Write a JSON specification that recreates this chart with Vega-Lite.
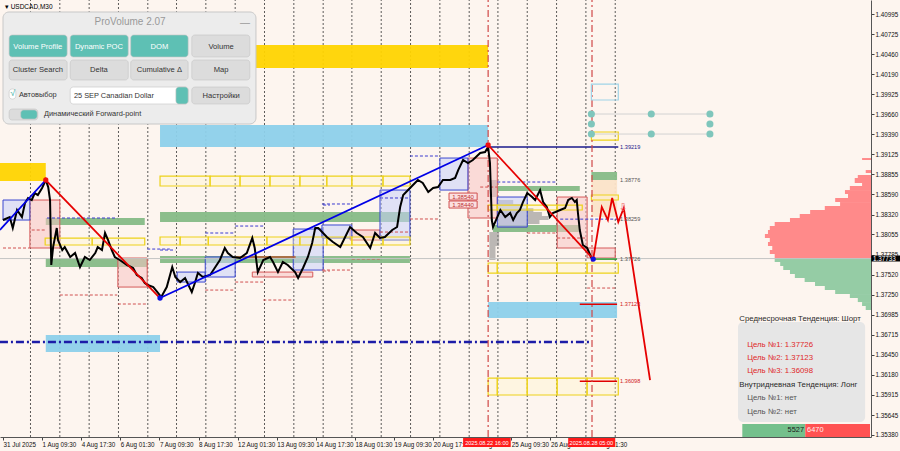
{
"$schema": "https://vega.github.io/schema/vega-lite/v6.json",
"width": 871, "height": 437,
"autosize": {"type": "none"},
"padding": {"left": 0, "top": 0, "right": 29, "bottom": 14},
"background": "#FDF5EF",
"config": {"view": {"stroke": null}, "text": {"font": "Liberation Sans"}},
"resolve": {"scale": {"color": "independent"}},
"datasets": {
"grid": [{"x":45,"y":1.35353,"y2":1.41182},{"x":93,"y":1.35353,"y2":1.41182},{"x":141,"y":1.35353,"y2":1.41182},{"x":189,"y":1.35353,"y2":1.41182},{"x":237,"y":1.35353,"y2":1.41182},{"x":284,"y":1.35353,"y2":1.41182},{"x":332,"y":1.35353,"y2":1.41182},{"x":380,"y":1.35353,"y2":1.41182},{"x":428,"y":1.35353,"y2":1.41182},{"x":476,"y":1.35353,"y2":1.41182},{"x":524,"y":1.35353,"y2":1.41182},{"x":571,"y":1.35353,"y2":1.41182},{"x":619,"y":1.35353,"y2":1.41182},{"x":667,"y":1.35353,"y2":1.41182},{"x":715,"y":1.35353,"y2":1.41182},{"x":763,"y":1.35353,"y2":1.41182},{"x":810,"y":1.35353,"y2":1.41182},{"x":858,"y":1.35353,"y2":1.41182},{"x":906,"y":1.35353,"y2":1.41182},{"x":954,"y":1.35353,"y2":1.41182},{"x":1002,"y":1.35353,"y2":1.41182}],
"vp": [
{"y":1.39074,"y2":1.39048,"x":1406,"s":"s"},{"y":1.38914,"y2":1.38874,"x":1412,"s":"s"},{"y":1.38848,"y2":1.38808,"x":1399,"s":"s"},{"y":1.38808,"y2":1.38741,"x":1394,"s":"s"},{"y":1.38741,"y2":1.38701,"x":1406,"s":"s"},{"y":1.38701,"y2":1.38647,"x":1386,"s":"s"},{"y":1.38647,"y2":1.38594,"x":1378,"s":"s"},{"y":1.38594,"y2":1.38541,"x":1383,"s":"s"},{"y":1.38541,"y2":1.38487,"x":1362,"s":"s"},{"y":1.38487,"y2":1.38434,"x":1370,"s":"s"},{"y":1.38434,"y2":1.38381,"x":1345,"s":"s"},{"y":1.38381,"y2":1.38327,"x":1321,"s":"s"},{"y":1.38327,"y2":1.38274,"x":1304,"s":"s"},{"y":1.38274,"y2":1.38221,"x":1288,"s":"s"},{"y":1.38221,"y2":1.38167,"x":1263,"s":"s"},{"y":1.38167,"y2":1.38114,"x":1255,"s":"s"},{"y":1.38114,"y2":1.38060,"x":1252,"s":"s"},{"y":1.38060,"y2":1.38007,"x":1247,"s":"s"},{"y":1.38007,"y2":1.37954,"x":1255,"s":"s"},{"y":1.37954,"y2":1.37900,"x":1252,"s":"s"},{"y":1.37900,"y2":1.37847,"x":1259,"s":"s"},{"y":1.37847,"y2":1.37794,"x":1255,"s":"s"},{"y":1.37794,"y2":1.37740,"x":1263,"s":"s"},
{"y":1.37740,"y2":1.37687,"x":1263,"s":"b"},{"y":1.37687,"y2":1.37634,"x":1272,"s":"b"},{"y":1.37634,"y2":1.37580,"x":1277,"s":"b"},{"y":1.37580,"y2":1.37527,"x":1288,"s":"b"},{"y":1.37527,"y2":1.37474,"x":1296,"s":"b"},{"y":1.37474,"y2":1.37420,"x":1312,"s":"b"},{"y":1.37420,"y2":1.37367,"x":1329,"s":"b"},{"y":1.37367,"y2":1.37313,"x":1345,"s":"b"},{"y":1.37313,"y2":1.37260,"x":1362,"s":"b"},{"y":1.37260,"y2":1.37207,"x":1386,"s":"b"},{"y":1.37207,"y2":1.37153,"x":1399,"s":"b"},{"y":1.37153,"y2":1.37100,"x":1406,"s":"b"},{"y":1.37100,"y2":1.37047,"x":1412,"s":"b"}
],
"zones": [
{"x":-5,"x2":70,"y":1.39008,"y2":1.38767,"k":"gold"},
{"x":257,"x2":794,"y":1.40582,"y2":1.40275,"k":"gold"},
{"x":257,"x2":794,"y":1.39514,"y2":1.39221,"k":"sky"},
{"x":794,"x2":1005,"y":1.37153,"y2":1.36940,"k":"sky"},
{"x":70,"x2":257,"y":1.36713,"y2":1.36486,"k":"sky"},
{"x":70,"x2":232,"y":1.38274,"y2":1.38181,"k":"green"},
{"x":70,"x2":236,"y":1.37740,"y2":1.37620,"k":"green"},
{"x":257,"x2":666,"y":1.38354,"y2":1.38221,"k":"green"},
{"x":257,"x2":666,"y":1.37767,"y2":1.37674,"k":"green"},
{"x":809,"x2":944,"y":1.38701,"y2":1.38634,"k":"green"},
{"x":802,"x2":944,"y":1.38181,"y2":1.38087,"k":"green"},
{"x":963,"x2":1005,"y":1.38888,"y2":1.38781,"k":"green"},
{"x":963,"x2":1005,"y":1.38781,"y2":1.38287,"k":"peach"}
],
"gprof": [
{"x":809,"x2":835,"y":1.38514,"y2":1.38461},{"x":809,"x2":850,"y":1.38461,"y2":1.38407},{"x":809,"x2":868,"y":1.38407,"y2":1.38354},{"x":809,"x2":882,"y":1.38354,"y2":1.38301},{"x":809,"x2":893,"y":1.38301,"y2":1.38247},{"x":809,"x2":878,"y":1.38247,"y2":1.38194},{"x":809,"x2":858,"y":1.38194,"y2":1.38141},
{"x":796,"x2":812,"y":1.38087,"y2":1.37900},{"x":796,"x2":806,"y":1.37900,"y2":1.37714},{"x":796,"x2":808,"y":1.38781,"y2":1.38554}
],
"pbox": [
{"x":44,"x2":93,"y":1.38514,"y2":1.37874},{"x":188,"x2":236,"y":1.37740,"y2":1.37353},{"x":761,"x2":809,"y":1.39074,"y2":1.38274},{"x":907,"x2":956,"y":1.38554,"y2":1.37874},{"x":956,"x2":1002,"y":1.37874,"y2":1.37740},{"x":568,"x2":617,"y":1.38114,"y2":1.37980},{"x":408,"x2":507,"y":1.37553,"y2":1.37487}
],
"bbox": [
{"x":0,"x2":44,"y":1.38514,"y2":1.38247},{"x":285,"x2":331,"y":1.37553,"y2":1.37420},{"x":331,"x2":380,"y":1.37754,"y2":1.37487},{"x":475,"x2":524,"y":1.38127,"y2":1.37580},{"x":522,"x2":571,"y":1.38181,"y2":1.38007},{"x":617,"x2":666,"y":1.38647,"y2":1.37980},{"x":715,"x2":761,"y":1.39074,"y2":1.38647},{"x":809,"x2":858,"y":1.38554,"y2":1.38154}
],
"ybox": [
{"x":257,"x2":339,"y":1.38834,"y2":1.38701},{"x":339,"x2":388,"y":1.38834,"y2":1.38701},{"x":388,"x2":437,"y":1.38834,"y2":1.38701},{"x":437,"x2":486,"y":1.38834,"y2":1.38701},{"x":486,"x2":530,"y":1.38834,"y2":1.38701},{"x":530,"x2":571,"y":1.38834,"y2":1.38701},{"x":571,"x2":622,"y":1.38834,"y2":1.38701},{"x":622,"x2":666,"y":1.38834,"y2":1.38701},
{"x":257,"x2":290,"y":1.38021,"y2":1.37914},{"x":290,"x2":336,"y":1.38021,"y2":1.37914},{"x":336,"x2":432,"y":1.38021,"y2":1.37914},{"x":432,"x2":486,"y":1.38021,"y2":1.37914},{"x":486,"x2":530,"y":1.38021,"y2":1.37914},{"x":530,"x2":571,"y":1.38021,"y2":1.37914},{"x":571,"x2":622,"y":1.38021,"y2":1.37914},{"x":622,"x2":666,"y":1.38021,"y2":1.37914},
{"x":69,"x2":146,"y":1.38007,"y2":1.37914},{"x":146,"x2":232,"y":1.38007,"y2":1.37914},
{"x":794,"x2":809,"y":1.38447,"y2":1.38381},{"x":809,"x2":858,"y":1.38447,"y2":1.38381},{"x":858,"x2":907,"y":1.38447,"y2":1.38381},{"x":907,"x2":948,"y":1.38447,"y2":1.38381},
{"x":794,"x2":809,"y":1.37674,"y2":1.37540},{"x":809,"x2":858,"y":1.37674,"y2":1.37540},{"x":858,"x2":907,"y":1.37674,"y2":1.37540},{"x":907,"x2":956,"y":1.37674,"y2":1.37540},{"x":956,"x2":1007,"y":1.37674,"y2":1.37540},
{"x":794,"x2":809,"y":1.36139,"y2":1.35913},{"x":809,"x2":858,"y":1.36139,"y2":1.35913},{"x":858,"x2":907,"y":1.36139,"y2":1.35913},{"x":907,"x2":956,"y":1.36139,"y2":1.35913},{"x":956,"x2":1007,"y":1.36139,"y2":1.35913},
{"x":963,"x2":1007,"y":1.39421,"y2":1.39314},{"x":963,"x2":1007,"y":1.38581,"y2":1.38514}
],
"dash": [
{"x":72,"x2":187,"y":1.38274,"k":"b"},{"x":236,"x2":273,"y":1.37860,"k":"b"},{"x":524,"x2":535,"y":1.38447,"k":"b"},{"x":380,"x2":426,"y":1.38167,"k":"b"},{"x":331,"x2":380,"y":1.38074,"k":"b"},{"x":257,"x2":282,"y":1.37847,"k":"b"},{"x":666,"x2":715,"y":1.39101,"k":"b"},{"x":617,"x2":666,"y":1.38541,"k":"b"},{"x":522,"x2":571,"y":1.38461,"k":"b"},{"x":809,"x2":907,"y":1.38754,"k":"b"},{"x":912,"x2":1005,"y":1.38259,"k":"b"},
{"x":47,"x2":69,"y":1.38114,"k":"r"},{"x":0,"x2":44,"y":1.37874,"k":"r"},{"x":93,"x2":187,"y":1.37247,"k":"r"},{"x":188,"x2":236,"y":1.37127,"k":"r"},{"x":331,"x2":380,"y":1.37313,"k":"r"},{"x":380,"x2":426,"y":1.37420,"k":"r"},{"x":426,"x2":475,"y":1.37180,"k":"r"},{"x":524,"x2":535,"y":1.37567,"k":"r"},{"x":666,"x2":715,"y":1.38261,"k":"r"},{"x":617,"x2":666,"y":1.38087,"k":"r"},{"x":571,"x2":617,"y":1.37727,"k":"r"},{"x":522,"x2":571,"y":1.37580,"k":"r"},{"x":858,"x2":907,"y":1.38074,"k":"r"},{"x":907,"x2":956,"y":1.38007,"k":"r"},{"x":956,"x2":1005,"y":1.37340,"k":"r"},{"x":781,"x2":809,"y":1.38687,"k":"r"}
],
"hline": [
{"x":794,"x2":1007,"y":1.39221,"k":"navy"},{"x":944,"x2":1005,"y":1.37123,"k":"red"},{"x":944,"x2":1005,"y":1.36098,"k":"red"},{"x":966,"x2":1005,"y":1.37726,"k":"green"},{"x":380,"x2":479,"y":1.37754,"k":"brown"}
],
"navydd": [{"x":-5,"x2":963,"y":1.36620}],
"cur": [{"x":-5,"x2":1421,"y":1.37733}],
"vlines": [{"x":794,"y":1.35353,"y2":1.41182},{"x":964,"y":1.35353,"y2":1.41182}],
"price": [
{"x":0,"y":1.38247},{"x":11,"y":1.38287},{"x":16,"y":1.38141},{"x":23,"y":1.38381},{"x":31,"y":1.38287},{"x":36,"y":1.38474},{"x":41,"y":1.38541},{"x":47,"y":1.38514},{"x":52,"y":1.38607},{"x":57,"y":1.38581},{"x":64,"y":1.38674},{"x":70,"y":1.38781},{"x":74,"y":1.38687},{"x":77,"y":1.38514},{"x":79,"y":1.37647},{"x":82,"y":1.37887},{"x":88,"y":1.38141},{"x":90,"y":1.37980},{"x":97,"y":1.37847},{"x":101,"y":1.37887},{"x":110,"y":1.37754},{"x":118,"y":1.37807},{"x":126,"y":1.37620},{"x":134,"y":1.37754},{"x":142,"y":1.37714},{"x":151,"y":1.37807},{"x":155,"y":1.37887},{"x":162,"y":1.37847},{"x":167,"y":1.38074},{"x":172,"y":1.37980},{"x":178,"y":1.37847},{"x":183,"y":1.37754},{"x":191,"y":1.37714},{"x":203,"y":1.37647},{"x":213,"y":1.37607},{"x":219,"y":1.37514},{"x":227,"y":1.37474},{"x":232,"y":1.37407},{"x":237,"y":1.37380},{"x":246,"y":1.37353},{"x":254,"y":1.37273},{"x":259,"y":1.37220},
{"x":268,"y":1.37353},{"x":277,"y":1.37620},{"x":282,"y":1.37487},{"x":290,"y":1.37420},{"x":298,"y":1.37474},{"x":309,"y":1.37287},{"x":314,"y":1.37407},{"x":319,"y":1.37540},{"x":327,"y":1.37487},{"x":339,"y":1.37514},{"x":355,"y":1.37714},{"x":363,"y":1.37874},{"x":368,"y":1.37807},{"x":376,"y":1.37754},{"x":388,"y":1.37740},{"x":399,"y":1.37807},{"x":408,"y":1.38007},{"x":412,"y":1.37874},{"x":417,"y":1.37553},{"x":426,"y":1.37714},{"x":437,"y":1.37754},{"x":442,"y":1.37687},{"x":450,"y":1.37553},{"x":458,"y":1.37687},{"x":466,"y":1.37647},{"x":478,"y":1.37553},{"x":483,"y":1.37474},{"x":491,"y":1.37607},{"x":499,"y":1.37754},{"x":506,"y":1.37940},{"x":511,"y":1.38141},
{"x":516,"y":1.38141},{"x":530,"y":1.38021},{"x":540,"y":1.37954},{"x":552,"y":1.37887},{"x":560,"y":1.38021},{"x":568,"y":1.38154},{"x":579,"y":1.38074},{"x":589,"y":1.38021},{"x":601,"y":1.37874},{"x":609,"y":1.38074},{"x":617,"y":1.38007},{"x":625,"y":1.38021},{"x":637,"y":1.38114},{"x":645,"y":1.38154},{"x":650,"y":1.38421},{"x":655,"y":1.38581},{"x":663,"y":1.38647},{"x":671,"y":1.38714},{"x":679,"y":1.38781},{"x":687,"y":1.38741},{"x":696,"y":1.38621},{"x":704,"y":1.38674},{"x":712,"y":1.38687},{"x":720,"y":1.38781},{"x":732,"y":1.38781},{"x":740,"y":1.38808},{"x":745,"y":1.38914},{"x":753,"y":1.39048},{"x":761,"y":1.39008},{"x":769,"y":1.39048},{"x":781,"y":1.39141},{"x":789,"y":1.39154},{"x":794,"y":1.39221},
{"x":797,"y":1.39008},{"x":800,"y":1.38247},{"x":802,"y":1.38154},{"x":809,"y":1.38287},{"x":814,"y":1.38381},{"x":822,"y":1.38287},{"x":830,"y":1.38341},{"x":835,"y":1.38247},{"x":841,"y":1.38341},{"x":846,"y":1.38381},{"x":851,"y":1.38487},{"x":858,"y":1.38607},{"x":866,"y":1.38554},{"x":871,"y":1.38514},{"x":879,"y":1.38647},{"x":884,"y":1.38487},{"x":890,"y":1.38421},{"x":895,"y":1.38287},{"x":900,"y":1.38341},{"x":912,"y":1.38381},{"x":920,"y":1.38407},{"x":925,"y":1.38514},{"x":931,"y":1.38541},{"x":936,"y":1.38487},{"x":939,"y":1.38514},{"x":941,"y":1.38341},{"x":944,"y":1.38114},{"x":949,"y":1.37914},{"x":956,"y":1.37874},{"x":961,"y":1.37781},{"x":963,"y":1.37740}
],
"zig": [
{"x":-5,"y":1.38114,"s":1,"c":"b"},{"x":70,"y":1.38781,"s":1,"c":"b"},
{"x":70,"y":1.38781,"s":2,"c":"r"},{"x":257,"y":1.37207,"s":2,"c":"r"},
{"x":257,"y":1.37207,"s":3,"c":"b"},{"x":794,"y":1.39248,"s":3,"c":"b"},
{"x":794,"y":1.39248,"s":4,"c":"r"},{"x":966,"y":1.37727,"s":4,"c":"r"},
{"x":966,"y":1.37727,"s":5,"c":"r"},{"x":980,"y":1.38421,"s":5,"c":"r"},{"x":990,"y":1.38247,"s":5,"c":"r"},{"x":997,"y":1.38541,"s":5,"c":"r"},{"x":1007,"y":1.38221,"s":5,"c":"r"},{"x":1016,"y":1.38407,"s":5,"c":"r"},{"x":1059,"y":1.36113,"s":5,"c":"r"}
],
"dots": [{"x":70,"y":1.38781,"c":"r"},{"x":794,"y":1.39248,"c":"r"},{"x":257,"y":1.37207,"c":"b"},{"x":966,"y":1.37727,"c":"b"}],
"tc": [{"x":963,"y":1.39661},{"x":1061,"y":1.39661},{"x":1157,"y":1.39661},{"x":963,"y":1.39528},{"x":1157,"y":1.39528},{"x":963,"y":1.39394},{"x":1061,"y":1.39394},{"x":1157,"y":1.39394}],
"tcl": [{"x":963,"x2":1157,"y":1.39661},{"x":963,"x2":1157,"y":1.39394}],
"lbox": [{"x":963,"x2":1007,"y":1.40061,"y2":1.39848}],
"rlab": [
{"x":1010,"y":1.39221,"t":"1.39219","k":"navy"},{"x":1010,"y":1.38781,"t":"1.38776","k":"gray"},{"x":1010,"y":1.38259,"t":"1.38259","k":"gray"},{"x":1010,"y":1.37727,"t":"1.37726","k":"gray"},{"x":1010,"y":1.37127,"t":"1.37123","k":"red"},{"x":1010,"y":1.36099,"t":"1.36098","k":"red"}
],
"plab": [{"x":730,"x2":776,"y":1.38607,"y2":1.38514,"t":"1.38540","xc":753,"yc":1.38560},{"x":730,"x2":776,"y":1.38501,"y2":1.38407,"t":"1.38440","xc":753,"yc":1.38454}],
"arrow": [{"x":1015,"y":1.38407,"t":"⇩"}],
"panel": [{"x":0,"x2":414,"y":1.41022,"y2":1.39528}],
"btn": [
{"x":10,"x2":105,"y":1.40715,"y2":1.40422,"k":"teal"},{"x":110,"x2":205,"y":1.40715,"y2":1.40422,"k":"teal"},{"x":209,"x2":303,"y":1.40715,"y2":1.40422,"k":"teal"},{"x":309,"x2":404,"y":1.40715,"y2":1.40422,"k":"gray"},
{"x":10,"x2":105,"y":1.40382,"y2":1.40115,"k":"gray"},{"x":110,"x2":205,"y":1.40382,"y2":1.40115,"k":"gray"},{"x":209,"x2":303,"y":1.40382,"y2":1.40115,"k":"gray"},{"x":309,"x2":404,"y":1.40382,"y2":1.40115,"k":"gray"},
{"x":309,"x2":404,"y":1.40021,"y2":1.39795,"k":"gray"},{"x":110,"x2":303,"y":1.40021,"y2":1.39795,"k":"white"},{"x":283,"x2":303,"y":1.40021,"y2":1.39795,"k":"teal"},
{"x":10,"x2":21,"y":1.39995,"y2":1.39861,"k":"white"},{"x":10,"x2":57,"y":1.39728,"y2":1.39581,"k":"gray"},{"x":29,"x2":56,"y":1.39715,"y2":1.39594,"k":"teal"}
],
"btnc": [
{"x":57,"y":1.40555,"t":"Volume Profile","k":"w"},{"x":157,"y":1.40555,"t":"Dynamic POC","k":"w"},{"x":256,"y":1.40555,"t":"DOM","k":"w"},{"x":357,"y":1.40555,"t":"Volume","k":"d"},
{"x":57,"y":1.40248,"t":"Cluster Search","k":"d"},{"x":157,"y":1.40248,"t":"Delta","k":"d"},{"x":256,"y":1.40248,"t":"Cumulative Δ","k":"d"},{"x":357,"y":1.40248,"t":"Map","k":"d"},
{"x":357,"y":1.39908,"t":"Настройки","k":"d"},{"x":208,"y":1.40889,"t":"ProVolume 2.07","k":"t"},{"x":396,"y":1.40875,"t":"—","k":"t"}
],
"btnl": [{"x":26,"y":1.39915,"t":"Автовыбор"},{"x":116,"y":1.39908,"t":"25 SEP Canadian Dollar"},{"x":67,"y":1.39661,"t":"Динамический Forward-point"}],
"check": [{"x":16,"y":1.39935,"t":"√"}],
"ibox": [{"x":1203,"x2":1411,"y":1.36887,"y2":1.35552}],
"itext": [
{"x":1205,"y":1.36926,"t":"Среднесрочная Тенденция: Шорт","k":"h"},
{"x":1218,"y":1.36580,"t":"Цель №1: 1.37726","k":"r"},
{"x":1218,"y":1.36406,"t":"Цель №2: 1.37123","k":"r"},
{"x":1218,"y":1.36233,"t":"Цель №3: 1.36098","k":"r"},
{"x":1205,"y":1.36046,"t":"Внутридневная Тенденция: Лонг","k":"h"},
{"x":1218,"y":1.35873,"t":"Цель №1: нет","k":"g"},
{"x":1218,"y":1.35686,"t":"Цель №2: нет","k":"g"}
],
"vbar": [{"x":1210,"x2":1313,"y":1.35526,"y2":1.35353,"k":"g"},{"x":1313,"x2":1419,"y":1.35526,"y2":1.35353,"k":"r"}],
"vbt": [{"x":1311,"y":1.35440,"t":"5527","a":"l"},{"x":1316,"y":1.35440,"t":"6470","a":"r"}],
"xlab": [{"x":753,"x2":831,"y":1.35339,"y2":1.35219,"t":"2025.08.22 16:00","xc":792,"yc":1.35279},{"x":925,"x2":1002,"y":1.35339,"y2":1.35219,"t":"2025.08.28 05:00","xc":963,"yc":1.35279}],
"curlab": [{"x":1421,"x2":1470,"y":1.37774,"y2":1.37694,"t":"1.37733","xc":1424,"yc":1.37733}],
"title": [{"x":3,"y":1.41089,"t":"▾ USDCAD,M30"}]
},
"encoding": {
"x": {"field": "x", "type": "quantitative", "scale": {"domain": [-4.91, 1420.62], "nice": false, "zero": false},
 "axis": {"orient": "bottom", "values": [0,64,128,192,256,320,384,448,512,576,640,704,768,832,896,960],
  "labelExpr": "['31 Jul 2025','1 Aug 09:30','4 Aug 17:30','6 Aug 01:30','7 Aug 09:30','8 Aug 17:30','12 Aug 01:30','13 Aug 09:30','14 Aug 17:30','18 Aug 01:30','19 Aug 09:30','20 Aug 17:30','22 Aug 01:30','25 Aug 09:30','26 Aug 17:30','28 Aug 01:30'][round(datum.value/64)]",
  "labelAlign": "left", "labelBaseline": "top", "labelPadding": 1, "tickSize": 3, "tickColor": "#444", "domainColor": "#555", "labelFontSize": 6.3, "labelColor": "#111", "labelFont": "Liberation Sans", "grid": false, "title": null, "labelOverlap": false, "labelFlush": false, "labelBound": false}},
"y": {"field": "y", "type": "quantitative", "scale": {"domain": [1.35353, 1.41182], "nice": false, "zero": false},
 "axis": {"orient": "right", "values": [1.40995,1.40725,1.4046,1.4019,1.39925,1.3966,1.3939,1.39125,1.38855,1.3859,1.3832,1.38055,1.37785,1.3752,1.3725,1.36985,1.36715,1.3645,1.3618,1.35915,1.35645,1.3538],
  "format": ".5f", "labelFontSize": 6.3, "tickSize": 3, "labelPadding": 1, "domainColor": "#555", "tickColor": "#444", "labelColor": "#111", "labelFont": "Liberation Sans", "grid": false, "title": null, "labelOverlap": false, "labelBound": false}}
},
"layer": [
{"data": {"name": "grid"}, "mark": {"type": "rule", "color": "#333", "strokeWidth": 0.8, "strokeDash": [2, 2]}, "encoding": {"y2": {"field": "y2"}}},
{"data": {"name": "vp"}, "transform": [{"filter": "datum.s == 's'"}], "mark": {"type": "rect", "color": "#FF8A8A"}, "encoding": {"x2": {"datum": 1420.62}, "y2": {"field": "y2"}}},
{"data": {"name": "vp"}, "transform": [{"filter": "datum.s == 'b'"}], "mark": {"type": "rect", "color": "#95CCA5"}, "encoding": {"x2": {"datum": 1420.62}, "y2": {"field": "y2"}}},
{"data": {"name": "zones"}, "mark": {"type": "rect", "opacity": 0.95}, "encoding": {"x2": {"field": "x2"}, "y2": {"field": "y2"}, "color": {"field": "k", "type": "nominal", "legend": null, "scale": {"domain": ["gold", "sky", "green", "peach"], "range": ["#FFD400", "#8DD0EA", "#86BA86", "#FBE3C8"]}}}},
{"data": {"name": "gprof"}, "mark": {"type": "rect", "color": "#7A7A7A", "opacity": 0.5}, "encoding": {"x2": {"field": "x2"}, "y2": {"field": "y2"}}},
{"data": {"name": "pbox"}, "mark": {"type": "rect", "fill": "#F7C3C3", "fillOpacity": 0.55, "stroke": "#D65A5A", "strokeWidth": 1}, "encoding": {"x2": {"field": "x2"}, "y2": {"field": "y2"}}},
{"data": {"name": "bbox"}, "mark": {"type": "rect", "fill": "#C8D0FA", "fillOpacity": 0.55, "stroke": "#3A48D0", "strokeWidth": 1}, "encoding": {"x2": {"field": "x2"}, "y2": {"field": "y2"}}},
{"data": {"name": "ybox"}, "mark": {"type": "rect", "fill": "#FFF6C8", "fillOpacity": 0.35, "stroke": "#EDD21A", "strokeWidth": 1.2}, "encoding": {"x2": {"field": "x2"}, "y2": {"field": "y2"}}},
{"data": {"name": "dash"}, "transform": [{"filter": "datum.k == 'b'"}], "mark": {"type": "rule", "color": "#3A3AD0", "strokeWidth": 1, "strokeDash": [3, 2]}, "encoding": {"x2": {"field": "x2"}}},
{"data": {"name": "dash"}, "transform": [{"filter": "datum.k == 'r'"}], "mark": {"type": "rule", "color": "#D05050", "strokeWidth": 1, "strokeDash": [3, 2]}, "encoding": {"x2": {"field": "x2"}}},
{"data": {"name": "cur"}, "mark": {"type": "rule", "color": "#C4C4C4", "strokeWidth": 1}, "encoding": {"x2": {"field": "x2"}}},
{"data": {"name": "navydd"}, "mark": {"type": "rule", "color": "#1C1CA8", "strokeWidth": 2.5, "strokeDash": [8, 3, 2, 3]}, "encoding": {"x2": {"field": "x2"}}},
{"data": {"name": "hline"}, "mark": {"type": "rule", "strokeWidth": 1.5}, "encoding": {"x2": {"field": "x2"}, "color": {"field": "k", "type": "nominal", "legend": null, "scale": {"domain": ["navy", "red", "green", "brown"], "range": ["#1A1A8C", "#E00000", "#2E9A2E", "#B5562E"]}}}},
{"data": {"name": "vlines"}, "mark": {"type": "rule", "color": "#D04848", "strokeWidth": 1.2, "strokeDash": [7, 3, 2, 3]}, "encoding": {"y2": {"field": "y2"}}},
{"data": {"name": "price"}, "mark": {"type": "line", "color": "#000000", "strokeWidth": 2}},
{"data": {"name": "zig"}, "mark": {"type": "line", "strokeWidth": 1.8}, "encoding": {"detail": {"field": "s", "type": "nominal"}, "color": {"field": "c", "type": "nominal", "legend": null, "scale": {"domain": ["b", "r"], "range": ["#0000E6", "#E60000"]}}}},
{"data": {"name": "dots"}, "mark": {"type": "point", "filled": true, "size": 28, "opacity": 1}, "encoding": {"color": {"field": "c", "type": "nominal", "legend": null, "scale": {"domain": ["b", "r"], "range": ["#1010E0", "#F01010"]}}}},
{"data": {"name": "tcl"}, "mark": {"type": "rule", "color": "#D2D2D2", "strokeWidth": 1}, "encoding": {"x2": {"field": "x2"}}},
{"data": {"name": "tc"}, "mark": {"type": "point", "filled": true, "size": 50, "color": "#7FC6BC", "opacity": 1}},
{"data": {"name": "lbox"}, "mark": {"type": "rect", "fillOpacity": 0, "stroke": "#9FD3E8", "strokeWidth": 1.2}, "encoding": {"x2": {"field": "x2"}, "y2": {"field": "y2"}}},
{"data": {"name": "rlab"}, "mark": {"type": "text", "align": "left", "baseline": "middle", "fontSize": 5.6}, "encoding": {"text": {"field": "t"}, "color": {"field": "k", "type": "nominal", "legend": null, "scale": {"domain": ["navy", "gray", "red"], "range": ["#1A1A8C", "#555555", "#D02020"]}}}},
{"data": {"name": "plab"}, "mark": {"type": "rect", "fill": "#FBE0E0", "stroke": "#D05050", "strokeWidth": 1}, "encoding": {"x2": {"field": "x2"}, "y2": {"field": "y2"}}},
{"data": {"name": "plab"}, "mark": {"type": "text", "align": "center", "baseline": "middle", "fontSize": 6, "color": "#C03030"}, "encoding": {"x": {"field": "xc", "type": "quantitative"}, "y": {"field": "yc", "type": "quantitative"}, "text": {"field": "t"}}},
{"data": {"name": "arrow"}, "mark": {"type": "text", "align": "center", "baseline": "middle", "fontSize": 11, "color": "#F07070", "font": "DejaVu Sans"}, "encoding": {"text": {"field": "t"}}},
{"data": {"name": "panel"}, "mark": {"type": "rect", "fill": "#ECECEC", "stroke": "#C8C8C8", "strokeWidth": 1, "cornerRadius": 6}, "encoding": {"x2": {"field": "x2"}, "y2": {"field": "y2"}}},
{"data": {"name": "btn"}, "mark": {"type": "rect", "stroke": "#C4C4C4", "strokeWidth": 0.6, "cornerRadius": 3}, "encoding": {"x2": {"field": "x2"}, "y2": {"field": "y2"}, "color": {"field": "k", "type": "nominal", "legend": null, "scale": {"domain": ["teal", "gray", "white"], "range": ["#5EC0B4", "#DCDCDC", "#FFFFFF"]}}}},
{"data": {"name": "btnc"}, "transform": [{"filter": "datum.k != 't'"}], "mark": {"type": "text", "align": "center", "baseline": "middle", "fontSize": 7.6}, "encoding": {"text": {"field": "t"}, "color": {"field": "k", "type": "nominal", "legend": null, "scale": {"domain": ["w", "d"], "range": ["#FFFFFF", "#333333"]}}}},
{"data": {"name": "btnc"}, "transform": [{"filter": "datum.k == 't'"}], "mark": {"type": "text", "align": "center", "baseline": "middle", "fontSize": 10, "color": "#999999"}, "encoding": {"text": {"field": "t"}}},
{"data": {"name": "btnl"}, "mark": {"type": "text", "align": "left", "baseline": "middle", "fontSize": 7.4, "color": "#333333"}, "encoding": {"text": {"field": "t"}}},
{"data": {"name": "check"}, "mark": {"type": "text", "align": "center", "baseline": "middle", "fontSize": 9, "color": "#40B0A5"}, "encoding": {"text": {"field": "t"}}},
{"data": {"name": "ibox"}, "mark": {"type": "rect", "fill": "#E6E6E6", "cornerRadius": 5}, "encoding": {"x2": {"field": "x2"}, "y2": {"field": "y2"}}},
{"data": {"name": "itext"}, "mark": {"type": "text", "align": "left", "baseline": "middle", "fontSize": 7.8}, "encoding": {"text": {"field": "t"}, "color": {"field": "k", "type": "nominal", "legend": null, "scale": {"domain": ["h", "r", "g"], "range": ["#2A2A2A", "#E02828", "#555555"]}}}},
{"data": {"name": "vbar"}, "mark": {"type": "rect"}, "encoding": {"x2": {"field": "x2"}, "y2": {"field": "y2"}, "color": {"field": "k", "type": "nominal", "legend": null, "scale": {"domain": ["g", "r"], "range": ["#74C08C", "#FF5252"]}}}},
{"data": {"name": "vbt"}, "transform": [{"filter": "datum.a == 'l'"}], "mark": {"type": "text", "align": "right", "baseline": "middle", "fontSize": 7.4, "color": "#1A1A1A"}, "encoding": {"text": {"field": "t"}}},
{"data": {"name": "vbt"}, "transform": [{"filter": "datum.a == 'r'"}], "mark": {"type": "text", "align": "left", "baseline": "middle", "fontSize": 7.4, "color": "#FFF0F0"}, "encoding": {"text": {"field": "t"}}},
{"data": {"name": "xlab"}, "mark": {"type": "rect", "fill": "#FF1A1A"}, "encoding": {"x2": {"field": "x2"}, "y2": {"field": "y2"}}},
{"data": {"name": "xlab"}, "mark": {"type": "text", "align": "center", "baseline": "middle", "fontSize": 5.6, "color": "#FFFFFF"}, "encoding": {"x": {"field": "xc", "type": "quantitative"}, "y": {"field": "yc", "type": "quantitative"}, "text": {"field": "t"}}},
{"data": {"name": "curlab"}, "mark": {"type": "rect", "fill": "#000000"}, "encoding": {"x2": {"field": "x2"}, "y2": {"field": "y2"}}},
{"data": {"name": "curlab"}, "mark": {"type": "text", "align": "left", "baseline": "middle", "fontSize": 6.3, "color": "#FFFFFF"}, "encoding": {"x": {"field": "xc", "type": "quantitative"}, "y": {"field": "yc", "type": "quantitative"}, "text": {"field": "t"}}},
{"data": {"name": "title"}, "mark": {"type": "text", "align": "left", "baseline": "middle", "fontSize": 6.5, "color": "#000000"}, "encoding": {"text": {"field": "t"}}}
]
}
